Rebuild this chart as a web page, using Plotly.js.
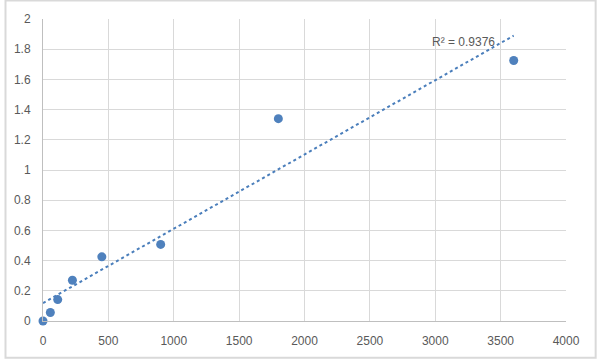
<!DOCTYPE html>
<html><head><meta charset="utf-8">
<script src="https://cdn.plot.ly/plotly-3.0.1.min.js"></script>
<style>html,body{margin:0;padding:0;background:#fff}#c{width:600px;height:361px}</style>
</head><body><div id="c"></div>
<script>
const concentration = [0, 56.25, 112.5, 225, 450, 900, 1800, 3600];
const od = [0, 0.056, 0.142, 0.27, 0.425, 0.507, 1.34, 1.725];
const r2Label = "R\u00b2 = 0.9376";

// least squares linear trendline
const n = concentration.length;
const mx = concentration.reduce((a,b)=>a+b,0)/n;
const my = od.reduce((a,b)=>a+b,0)/n;
let sxy=0, sxx=0;
for (let i=0;i<n;i++){ sxy+=(concentration[i]-mx)*(od[i]-my); sxx+=(concentration[i]-mx)**2; }
const slope = sxy/sxx, icpt = my - slope*mx;
const tx = [concentration[0], concentration[n-1]];
const ty = tx.map(x=>icpt+slope*x);

const gray = '#595959';
Plotly.newPlot('c', [
  {x: tx, y: ty, mode:'lines', line:{color:'#4a7ebb', width:2, dash:'dot'}, hoverinfo:'skip'},
  {x: concentration, y: od, mode:'markers', cliponaxis:false, marker:{color:'#4f81bd', size:9}}
], {
  width:600, height:361, showlegend:false,
  paper_bgcolor:'#fff', plot_bgcolor:'#fff',
  margin:{l:43, r:34, t:19, b:40},
  font:{family:'Liberation Sans, Arial, sans-serif', size:12, color:gray},
  xaxis:{range:[0,4000], dtick:500, tick0:0, showgrid:true, gridcolor:'#d9d9d9', gridwidth:1,
    zeroline:false, showline:true, linecolor:'#bfbfbf', linewidth:1, ticks:'outside', ticklen:9, tickcolor:'rgba(0,0,0,0)',
    tickfont:{size:12, color:gray}},
  yaxis:{range:[0,2], dtick:0.2, tick0:0, showgrid:true, gridcolor:'#d9d9d9', gridwidth:1,
    zeroline:false, showline:true, linecolor:'#bfbfbf', linewidth:1, ticks:'outside', ticklen:9, tickcolor:'rgba(0,0,0,0)',
    tickfont:{size:12, color:gray}},
  annotations:[{x:3219, y:1.85, xref:'x', yref:'y', text:r2Label, showarrow:false,
    font:{size:12, color:gray}}],
  shapes:[{type:'rect', xref:'paper', yref:'paper', x0:-0.0717, x1:1.0567, y0:-0.122, y1:1.0615,
    line:{color:'#d9d9d9', width:2}, fillcolor:'rgba(0,0,0,0)'}]
}, {displayModeBar:false, staticPlot:true});
</script></body></html>
